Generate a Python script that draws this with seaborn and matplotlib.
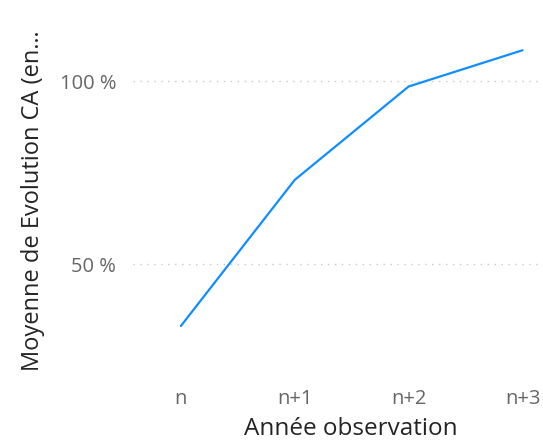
import pandas as pd
import matplotlib.pyplot as plt
import seaborn as sns

## Data ##
annees = ["n", "n+1", "n+2", "n+3"]
evolution_ca = [33.2, 73.1, 98.6, 108.5]

df = pd.DataFrame({"Année observation": annees, "Evolution": evolution_ca})

sns.set_style("white")
plt.rcParams['font.family'] = ['Open Sans', 'DejaVu Sans']

fig = plt.figure(figsize=(5.43, 4.43), dpi=100)
ax = fig.add_axes([0.245, 0.16, 0.755, 0.772])

sns.lineplot(data=df, x="Année observation", y="Evolution", ax=ax,
             color="#118DFF", linewidth=1.6, sort=False)

ax.set_xlim(-0.42, 3.18)
ax.set_ylim(20.6, 114)
ax.set_yticks([50, 100])
ax.set_yticklabels(["50 %", "100 %"])
ax.yaxis.grid(True, linestyle=(0, (1, 4)), color="#c8c8c8", linewidth=1)
ax.xaxis.grid(False)
sns.despine(ax=ax, left=True, bottom=True)
ax.tick_params(axis='both', length=0, labelsize=14.5, labelcolor="#666666")
ax.tick_params(axis='x', pad=12)
ax.tick_params(axis='y', pad=12)

ax.set_xlabel("Année observation", fontsize=17.5, color="#252423")
ax.set_ylabel("Moyenne de Evolution CA (en…", fontsize=17, color="#252423")
ax.xaxis.set_label_coords(0.53, -0.13)
ax.yaxis.set_label_coords(-0.215, 0.5)

plt.savefig("out.png", dpi=100)
